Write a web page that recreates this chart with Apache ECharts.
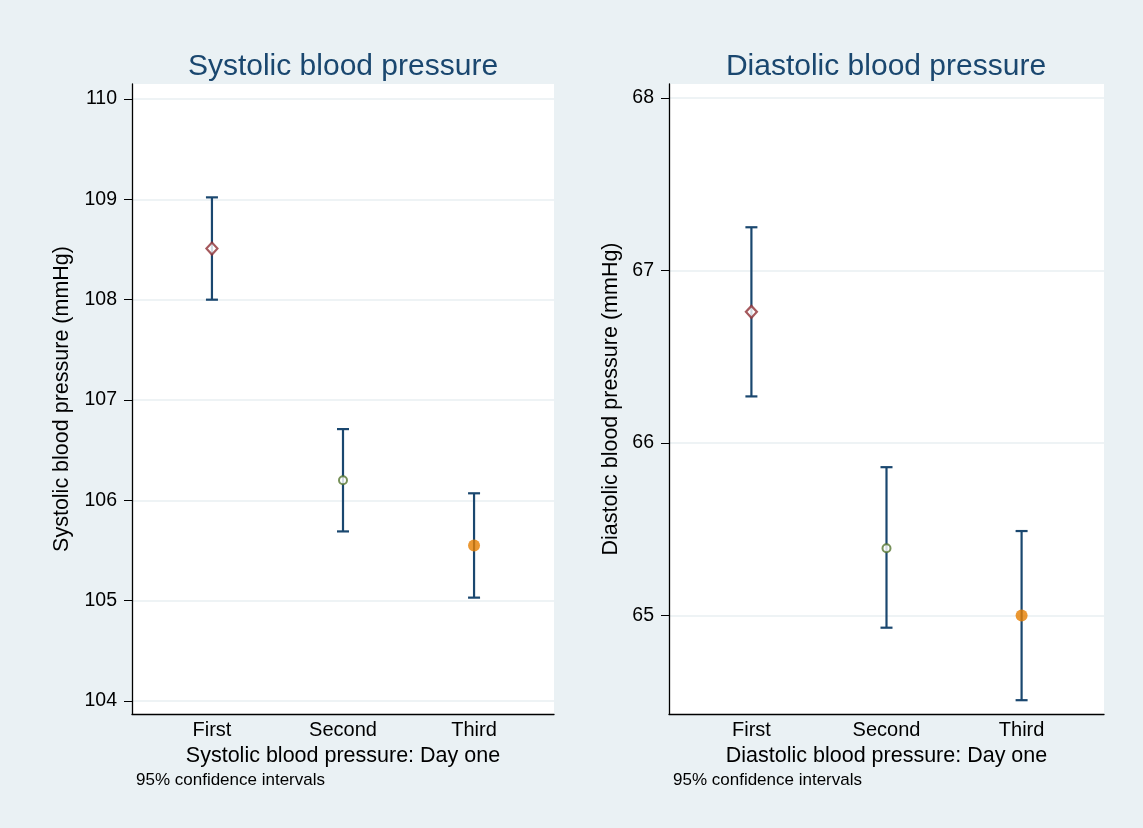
<!DOCTYPE html>
<html>
<head>
<meta charset="utf-8">
<script src="https://cdn.jsdelivr.net/npm/echarts@6/dist/echarts.min.js"></script>
<style>
  html, body { margin: 0; padding: 0; background: #eaf1f4; }
  #chart { width: 1143px; height: 828px; }
</style>
</head>
<body>
<div id="chart"></div>
<script>
// Measurement rounds
const categories = ['First', 'Second', 'Third'];

// Systolic blood pressure (mmHg): mean and 95% CI
const sysMean = [108.51, 106.20, 105.55];
const sysLow  = [108.00, 105.69, 105.03];
const sysHigh = [109.02, 106.71, 106.07];
const sysTicks = [104, 105, 106, 107, 108, 109, 110];

// Diastolic blood pressure (mmHg): mean and 95% CI
const diaMean = [66.76, 65.39, 65.00];
const diaLow  = [66.27, 64.93, 64.51];
const diaHigh = [67.25, 65.86, 65.49];
const diaTicks = [65, 66, 67, 68];

const navy = '#1a476f';
const markerStyles = [
  { symbol: 'diamond', symbolSize: [11, 12], itemStyle: { color: '#ffffff', borderColor: '#8f2f35', borderWidth: 2.2 } },
  { symbol: 'circle', symbolSize: 8, itemStyle: { color: '#ffffff', borderColor: '#55752f', borderWidth: 2 } },
  { symbol: 'circle', symbolSize: 12, itemStyle: { color: '#e67e00', borderWidth: 0 } }
];

const font = '"Liberation Sans", Arial, Helvetica, sans-serif';

function xAxisFor(gridIndex, name) {
  return {
    type: 'value', gridIndex, min: 0.39, max: 3.61,
    name, nameLocation: 'middle', nameGap: 20,
    nameTextStyle: { fontFamily: font, fontSize: 21.5, color: '#000' },
    axisLine: { show: true, onZero: false, lineStyle: { color: '#000', width: 1.3 } },
    axisTick: { show: false },
    splitLine: { show: false },
    axisLabel: {
      customValues: [1, 2, 3], margin: 6,
      formatter: v => categories[Math.round(v) - 1] || '',
      fontFamily: font, fontSize: 20, color: '#000'
    }
  };
}

function yAxisFor(gridIndex, name, min, max, ticks, gap) {
  return {
    type: 'value', gridIndex, min, max,
    name, nameLocation: 'middle', nameGap: gap,
    nameTextStyle: { fontFamily: font, fontSize: 21.5, color: '#000' },
    axisLine: { show: true, onZero: false, lineStyle: { color: '#000', width: 1.3 } },
    axisTick: { show: true, customValues: ticks, length: 8, lineStyle: { color: '#000', width: 1 } },
    splitLine: { show: true, customValues: ticks, lineStyle: { color: '#e8eff2', width: 1.5 } },
    axisLabel: { customValues: ticks, margin: 15, fontFamily: font, fontSize: 19.5, color: '#000' }
  };
}

function errorBars(idx, low, high) {
  return {
    type: 'custom', xAxisIndex: idx, yAxisIndex: idx,
    data: categories.map((c, i) => [i + 1, low[i], high[i]]),
    encode: { x: 0, y: [1, 2] },
    z: 2,
    renderItem: (params, api) => {
      const x = api.value(0);
      const lo = api.coord([x, api.value(1)]);
      const hi = api.coord([x, api.value(2)]);
      const cap = 6;
      const style = { stroke: navy, lineWidth: 2.2 };
      return {
        type: 'group',
        children: [
          { type: 'line', shape: { x1: lo[0], y1: lo[1], x2: hi[0], y2: hi[1] }, style },
          { type: 'line', shape: { x1: hi[0] - cap, y1: hi[1], x2: hi[0] + cap, y2: hi[1] }, style },
          { type: 'line', shape: { x1: lo[0] - cap, y1: lo[1], x2: lo[0] + cap, y2: lo[1] }, style }
        ]
      };
    }
  };
}

function points(idx, mean) {
  return {
    type: 'scatter', xAxisIndex: idx, yAxisIndex: idx, z: 3,
    data: mean.map((v, i) => Object.assign({ value: [i + 1, v] }, markerStyles[i]))
  };
}

const chart = echarts.init(document.getElementById('chart'), null, { renderer: 'canvas' });
chart.setOption({
  backgroundColor: '#eaf1f4',
  animation: false,
  title: [
    { text: 'Systolic blood pressure', left: 338, top: 47, textAlign: 'center',
      textStyle: { fontFamily: font, fontSize: 30, fontWeight: 'normal', color: navy } },
    { text: 'Diastolic blood pressure', left: 881, top: 47, textAlign: 'center',
      textStyle: { fontFamily: font, fontSize: 30, fontWeight: 'normal', color: navy } }
  ],
  grid: [
    { left: 132, right: 589, top: 84, bottom: 114, show: true, backgroundColor: '#ffffff', borderWidth: 0 },
    { left: 669, right: 39, top: 84, bottom: 114, show: true, backgroundColor: '#ffffff', borderWidth: 0 }
  ],
  xAxis: [
    xAxisFor(0, 'Systolic blood pressure: Day one'),
    xAxisFor(1, 'Diastolic blood pressure: Day one')
  ],
  yAxis: [
    yAxisFor(0, 'Systolic blood pressure (mmHg)', 103.87, 110.15, sysTicks, 59),
    yAxisFor(1, 'Diastolic blood pressure (mmHg)', 64.43, 68.08, diaTicks, 47)
  ],
  graphic: [
    { type: 'text', left: 136, top: 772, style: { text: '95% confidence intervals', font: '17px ' + font, fill: '#000' } },
    { type: 'text', left: 673, top: 772, style: { text: '95% confidence intervals', font: '17px ' + font, fill: '#000' } }
  ],
  series: [
    errorBars(0, sysLow, sysHigh), points(0, sysMean),
    errorBars(1, diaLow, diaHigh), points(1, diaMean)
  ]
});
</script>
</body>
</html>
